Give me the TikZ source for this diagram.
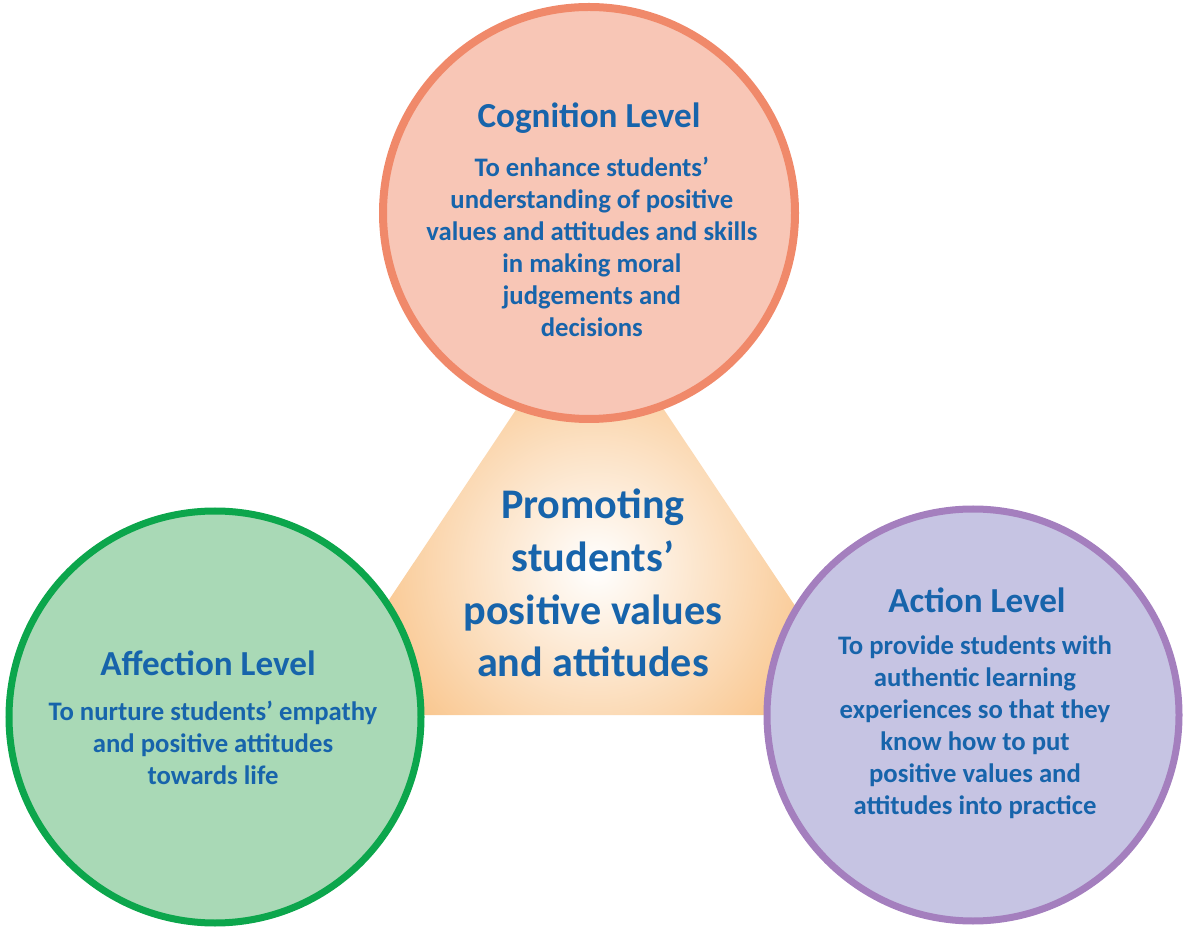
\documentclass[tikz,border=0pt]{standalone}
\usepackage{fontspec}
\setmainfont{Carlito}
\usetikzlibrary{positioning}
\definecolor{cogfill}{RGB}{248,198,182}
\definecolor{cogline}{RGB}{240,137,106}
\definecolor{afffill}{RGB}{169,217,182}
\definecolor{affline}{RGB}{12,166,76}
\definecolor{actfill}{RGB}{198,196,227}
\definecolor{actline}{RGB}{164,127,190}
\definecolor{textblue}{RGB}{23,100,171}
\definecolor{triorange}{RGB}{247,180,106}
\begin{document}
\begin{tikzpicture}[
    level/.style={circle, draw, line width=0.2cm, inner sep=0pt, minimum size=10.3cm},
    title/.style={text=textblue, font=\bfseries\fontsize{25}{30}\selectfont},
    body/.style={text=textblue, align=center, font=\bfseries\fontsize{19}{22.8}\selectfont},
    centre/.style={text=textblue, align=center, font=\bfseries\fontsize{30}{37.5}\selectfont}]
    \useasboundingbox (0,0) rectangle (29.65,23.175);
    % triangle behind the circles
    \coordinate (apex) at (14.75,15.7);
    \coordinate (bl) at (7.8,5.3);
    \coordinate (br) at (21.7,5.3);
    \begin{scope}
      \clip (apex) -- (bl) -- (br) -- cycle;
      \shade[inner color=white, outer color=triorange] (14.9,9.0) circle (7.6cm);
    \end{scope}
    \node (promo) [centre] at (14.825,8.6) {Promoting\\students’\\positive values\\and attitudes};
    % the three levels
    \node (cog) [level, draw=cogline, fill=cogfill] at (14.725,17.85) {};
    \node (aff) [level, draw=affline, fill=afffill, line width=0.175cm] at (5.375,5.25) {};
    \node (act) [level, draw=actline, fill=actfill, line width=0.175cm] at (24.325,5.3) {};
    \node (cogt) [title] at ([yshift=2.375cm]cog.center) {Cognition Level};
    \node (cogb) [body] at ([xshift=0.07cm, yshift=-0.85cm]cog.center) {To enhance students’\\understanding of positive\\values and attitudes and skills\\in making moral\\judgements and\\decisions};
    \node (afft) [title] at ([xshift=-0.175cm, yshift=1.35cm]aff.center) {Affection Level};
    \node (affb) [body] at ([xshift=-0.05cm, yshift=-0.65cm]aff.center) {To nurture students’ empathy\\and positive attitudes\\towards life};
    \node (actt) [title] at ([xshift=0.1cm, yshift=2.875cm]act.center) {Action Level};
    \node (actb) [body] at ([xshift=0.05cm, yshift=-0.31cm]act.center) {To provide students with\\authentic learning\\experiences so that they\\know how to put\\positive values and\\attitudes into practice};
  \end{tikzpicture}
\end{document}
